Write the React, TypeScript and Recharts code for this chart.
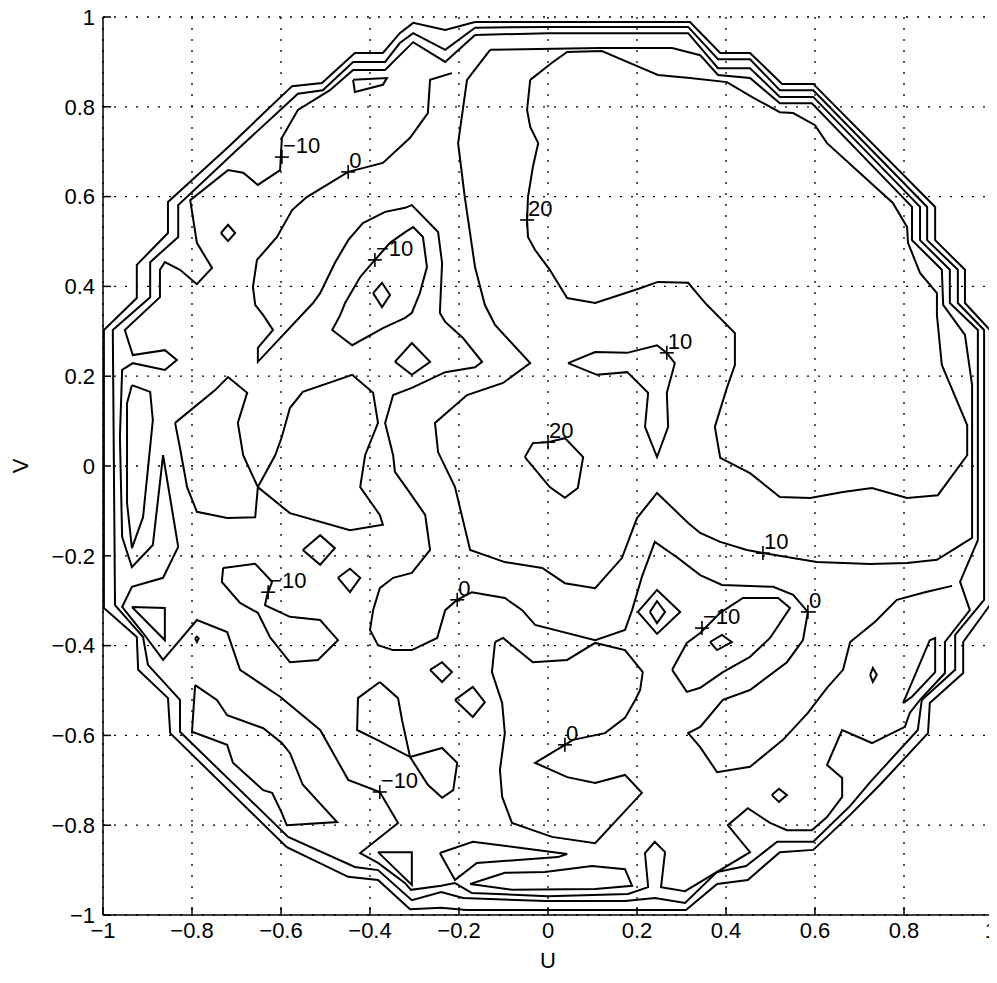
import React from 'react';
import { ScatterChart, Scatter, XAxis, YAxis, CartesianGrid } from 'recharts';

type Pt = [number, number];
const FONT = '"Liberation Sans", Arial, Helvetica, sans-serif';
const FS = 22;

const axisTicks = [-1, -0.8, -0.6, -0.4, -0.2, 0, 0.2, 0.4, 0.6, 0.8, 1];

// outer rings
const ring1: Pt[] = [[-0.164,0.989],[0.319,0.989],[0.387,0.920],[0.454,0.920],[0.526,0.851],[0.596,0.851],[0.870,0.577],[0.870,0.503],[0.937,0.437],[0.937,0.363],[0.993,0.303],[0.993,-0.310],[0.933,-0.392],[0.933,-0.461],[0.858,-0.528],[0.854,-0.595],[0.746,-0.710],[0.679,-0.777],[0.596,-0.855],[0.521,-0.860],[0.449,-0.922],[0.380,-0.931],[0.310,-0.989],[-0.184,-0.989],[-0.240,-0.984],[-0.310,-0.987],[-0.382,-0.922],[-0.449,-0.915],[-0.587,-0.849],[-0.849,-0.595],[-0.854,-0.517],[-0.921,-0.454],[-0.924,-0.381],[-0.998,-0.316],[-0.998,0.303],[-0.924,0.374],[-0.924,0.448],[-0.854,0.519],[-0.854,0.588],[-0.719,0.710],[-0.575,0.846],[-0.508,0.853],[-0.434,0.920],[-0.371,0.920],[-0.333,0.964],[-0.303,0.987],[-0.231,0.971],[-0.164,0.989]];

const ring2: Pt[] = [[-0.164,0.976],[0,0.978],[0.315,0.978],[0.382,0.906],[0.454,0.906],[0.521,0.837],[0.596,0.837],[0.852,0.577],[0.852,0.503],[0.921,0.437],[0.921,0.363],[0.980,0.303],[0.980,-0.298],[0.915,-0.376],[0.915,-0.454],[0.840,-0.521],[0.831,-0.588],[0.724,-0.704],[0.679,-0.757],[0.596,-0.837],[0.515,-0.837],[0.445,-0.891],[0.380,-0.904],[0.308,-0.973],[0.240,-0.962],[0.173,-0.969],[-0.004,-0.969],[-0.191,-0.962],[-0.240,-0.949],[-0.306,-0.967],[-0.382,-0.900],[-0.434,-0.893],[-0.584,-0.826],[-0.827,-0.592],[-0.827,-0.521],[-0.899,-0.443],[-0.910,-0.381],[-0.973,-0.310],[-0.978,0.303],[-0.894,0.376],[-0.894,0.454],[-0.831,0.510],[-0.831,0.581],[-0.701,0.702],[-0.562,0.829],[-0.506,0.837],[-0.438,0.900],[-0.366,0.900],[-0.333,0.942],[-0.303,0.964],[-0.231,0.927],[-0.164,0.976]];

const ring3: Pt[] = [[-0.164,0.960],[0,0.964],[0.315,0.964],[0.382,0.886],[0.454,0.886],[0.521,0.822],[0.596,0.822],[0.836,0.577],[0.836,0.503],[0.903,0.437],[0.903,0.363],[0.966,0.303],[0.966,-0.165],[0.926,-0.258],[0.948,-0.321],[0.892,-0.392],[0.892,-0.461],[0.836,-0.521],[0.813,-0.550],[0.802,-0.581],[0.728,-0.617],[0.661,-0.588],[0.627,-0.666],[0.661,-0.695],[0.661,-0.737],[0.627,-0.782],[0.593,-0.811],[0.537,-0.811],[0.499,-0.795],[0.449,-0.762],[0.404,-0.800],[0.454,-0.860],[0.308,-0.947],[0.254,-0.938],[0.263,-0.860],[0.240,-0.837],[0.218,-0.862],[0.225,-0.938],[0.180,-0.953],[0,-0.958],[-0.171,-0.951],[-0.209,-0.929],[-0.240,-0.935],[-0.308,-0.944],[-0.321,-0.929],[-0.382,-0.884],[-0.422,-0.862],[-0.337,-0.795],[-0.378,-0.726],[-0.449,-0.699],[-0.512,-0.588],[-0.602,-0.514],[-0.692,-0.454],[-0.721,-0.370],[-0.789,-0.343],[-0.865,-0.432],[-0.910,-0.372],[-0.957,-0.314],[-0.935,-0.269],[-0.865,-0.249],[-0.831,-0.180],[-0.865,0.024],[-0.888,-0.176],[-0.935,-0.225],[-0.957,-0.158],[-0.962,0.065],[-0.957,0.214],[-0.933,0.229],[-0.861,0.214],[-0.834,0.236],[-0.861,0.258],[-0.933,0.247],[-0.951,0.303],[-0.872,0.376],[-0.872,0.437],[-0.861,0.454],[-0.827,0.437],[-0.789,0.405],[-0.755,0.441],[-0.789,0.497],[-0.804,0.592],[-0.719,0.659],[-0.685,0.653],[-0.652,0.626],[-0.602,0.659],[-0.598,0.731],[-0.562,0.793],[-0.490,0.837],[-0.438,0.882],[-0.366,0.882],[-0.344,0.904],[-0.303,0.944],[-0.231,0.900],[-0.164,0.960]];

// 10 and 20 level regions
const level10Big: Pt[] = [[-0.130,0.927],[0.117,0.931],[0.279,0.931],[0.342,0.915],[0.382,0.871],[0.454,0.864],[0.521,0.808],[0.593,0.808],[0.818,0.577],[0.818,0.503],[0.885,0.437],[0.888,0.359],[0.937,0.292],[0.953,0.180],[0.953,-0.160],[0.874,-0.209],[0.807,-0.216],[0.724,-0.218],[0.604,-0.214],[0.483,-0.194],[0.447,-0.187],[0.387,-0.169],[0.342,-0.149],[0.315,-0.127],[0.245,-0.060],[0.200,-0.116],[0.166,-0.205],[0.106,-0.272],[0.038,-0.261],[-0.013,-0.227],[-0.097,-0.214],[-0.175,-0.187],[-0.209,-0.047],[-0.247,0.031],[-0.254,0.096],[-0.182,0.158],[-0.101,0.185],[-0.040,0.229],[-0.119,0.314],[-0.142,0.359],[-0.164,0.443],[-0.187,0.599],[-0.202,0.719],[-0.182,0.860],[-0.130,0.927]];

const level20Big: Pt[] = [[-0.040,0.860],[0.009,0.898],[0.043,0.922],[0.121,0.924],[0.211,0.886],[0.247,0.871],[0.319,0.864],[0.402,0.855],[0.458,0.822],[0.521,0.788],[0.551,0.786],[0.600,0.759],[0.627,0.719],[0.775,0.586],[0.807,0.532],[0.809,0.497],[0.836,0.430],[0.874,0.385],[0.874,0.336],[0.885,0.225],[0.942,0.091],[0.942,0.024],[0.876,-0.065],[0.807,-0.071],[0.728,-0.049],[0.663,-0.058],[0.589,-0.071],[0.521,-0.069],[0.454,-0.016],[0.387,0.018],[0.375,0.087],[0.402,0.174],[0.420,0.225],[0.420,0.296],[0.357,0.359],[0.342,0.376],[0.315,0.408],[0.247,0.410],[0.207,0.396],[0.106,0.363],[0.043,0.374],[0.004,0.437],[-0.029,0.481],[-0.045,0.510],[-0.047,0.548],[-0.045,0.599],[-0.034,0.666],[-0.022,0.719],[-0.040,0.755],[-0.047,0.793],[-0.040,0.860]];

const level20Small: Pt[] = [[-0.052,0.020],[-0.034,0.051],[0,0.053],[0.038,0.062],[0.079,0.020],[0.067,-0.049],[0.038,-0.071],[0.004,-0.047],[-0.052,0.020]];

const level10Spike: Pt[] = [[0.045,0.229],[0.106,0.254],[0.178,0.252],[0.245,0.269],[0.267,0.252],[0.285,0.229],[0.267,0.163],[0.270,0.087],[0.245,0.020],[0.218,0.087],[0.225,0.163],[0.178,0.209],[0.110,0.203],[0.045,0.229]];

// long zero contour (open)
const zeroLong: Pt[] = [[-0.216,0.875],[-0.265,0.860],[-0.270,0.786],[-0.310,0.731],[-0.371,0.675],[-0.449,0.655],[-0.542,0.599],[-0.575,0.570],[-0.609,0.510],[-0.654,0.459],[-0.663,0.399],[-0.658,0.359],[-0.640,0.336],[-0.618,0.303],[-0.652,0.263],[-0.652,0.232],[-0.528,0.363],[-0.512,0.385],[-0.479,0.452],[-0.449,0.503],[-0.416,0.541],[-0.366,0.566],[-0.321,0.575],[-0.306,0.581],[-0.247,0.521],[-0.238,0.452],[-0.243,0.341],[-0.231,0.321],[-0.191,0.285],[-0.148,0.232],[-0.164,0.220],[-0.231,0.209],[-0.306,0.174],[-0.348,0.158],[-0.366,0.096],[-0.348,0.024],[-0.344,-0.013],[-0.315,-0.053],[-0.276,-0.109],[-0.265,-0.187],[-0.306,-0.238],[-0.348,-0.249],[-0.378,-0.272],[-0.393,-0.321],[-0.400,-0.365],[-0.382,-0.399],[-0.348,-0.410],[-0.306,-0.410],[-0.249,-0.383],[-0.231,-0.321],[-0.204,-0.298],[-0.171,-0.281],[-0.097,-0.294],[-0.058,-0.321],[-0.029,-0.354],[0.106,-0.388],[0.173,-0.365],[0.189,-0.321],[0.211,-0.247],[0.240,-0.169],[0.292,-0.205],[0.342,-0.243],[0.391,-0.265],[0.506,-0.269],[0.551,-0.287],[0.584,-0.325],[0.573,-0.388],[0.537,-0.437],[0.454,-0.499],[0.393,-0.521],[0.342,-0.581],[0.315,-0.595],[0.342,-0.626],[0.380,-0.682],[0.454,-0.670],[0.528,-0.610],[0.584,-0.550],[0.627,-0.494],[0.663,-0.454],[0.679,-0.392],[0.735,-0.347],[0.784,-0.298],[0.847,-0.281],[0.908,-0.267]];

// upper-left region
const minus10Upper: Pt[] = [[-0.467,0.336],[-0.456,0.363],[-0.422,0.421],[-0.389,0.459],[-0.355,0.497],[-0.321,0.521],[-0.303,0.532],[-0.281,0.510],[-0.272,0.443],[-0.288,0.385],[-0.306,0.341],[-0.321,0.330],[-0.371,0.307],[-0.440,0.269],[-0.485,0.303],[-0.467,0.336]];
const diamondA: Pt[] = [[-0.393,0.385],[-0.373,0.408],[-0.355,0.381],[-0.373,0.354],[-0.393,0.385]];
const diamondB: Pt[] = [[-0.344,0.232],[-0.306,0.274],[-0.265,0.232],[-0.306,0.203],[-0.344,0.232]];
const diamondC: Pt[] = [[-0.735,0.519],[-0.719,0.537],[-0.703,0.519],[-0.719,0.501],[-0.735,0.519]];
const sliver: Pt[] = [[-0.438,0.860],[-0.362,0.864],[-0.371,0.849],[-0.434,0.833],[-0.438,0.860]];

// left-centre region
const leftLoop: Pt[] = [[-0.935,0.180],[-0.894,0.165],[-0.888,0.102],[-0.910,-0.114],[-0.935,-0.183],[-0.946,-0.082],[-0.946,0.140],[-0.935,0.180]];
const shapeA: Pt[] = [[-0.838,0.096],[-0.748,0.169],[-0.719,0.198],[-0.676,0.163],[-0.697,0.096],[-0.685,0.024],[-0.652,-0.047],[-0.658,-0.114],[-0.721,-0.116],[-0.789,-0.102],[-0.811,-0.047],[-0.827,0.040],[-0.838,0.096]];
const shapeB: Pt[] = [[-0.652,-0.047],[-0.580,-0.105],[-0.445,-0.143],[-0.371,-0.131],[-0.378,-0.109],[-0.422,-0.047],[-0.411,0.024],[-0.382,0.096],[-0.393,0.163],[-0.440,0.203],[-0.551,0.165],[-0.580,0.129],[-0.598,0.065],[-0.613,0.024],[-0.652,-0.047]];

// lower-left region
const minus10LowerLeft: Pt[] = [[-0.730,-0.227],[-0.658,-0.218],[-0.620,-0.258],[-0.631,-0.287],[-0.636,-0.310],[-0.580,-0.336],[-0.512,-0.343],[-0.472,-0.388],[-0.517,-0.432],[-0.580,-0.437],[-0.625,-0.381],[-0.652,-0.327],[-0.692,-0.305],[-0.733,-0.258],[-0.730,-0.227]];
const diamondD: Pt[] = [[-0.551,-0.187],[-0.512,-0.154],[-0.479,-0.183],[-0.512,-0.220],[-0.551,-0.187]];
const diamondE: Pt[] = [[-0.472,-0.249],[-0.445,-0.229],[-0.422,-0.249],[-0.445,-0.281],[-0.472,-0.249]];
const triangleLeft: Pt[] = [[-0.935,-0.314],[-0.861,-0.316],[-0.861,-0.388],[-0.935,-0.314]];
const dotLeft: Pt[] = [[-0.793,-0.384],[-0.789,-0.380],[-0.785,-0.384],[-0.789,-0.392],[-0.793,-0.384]];
const lowerLeftLoop: Pt[] = [[-0.793,-0.488],[-0.744,-0.521],[-0.721,-0.555],[-0.640,-0.584],[-0.598,-0.617],[-0.580,-0.639],[-0.551,-0.710],[-0.474,-0.793],[-0.587,-0.800],[-0.598,-0.773],[-0.620,-0.728],[-0.640,-0.722],[-0.708,-0.661],[-0.721,-0.621],[-0.800,-0.592],[-0.793,-0.488]];

// lower-centre region
const figureEight: Pt[] = [[-0.378,-0.481],[-0.337,-0.517],[-0.328,-0.566],[-0.310,-0.648],[-0.238,-0.628],[-0.204,-0.661],[-0.213,-0.722],[-0.238,-0.739],[-0.270,-0.710],[-0.310,-0.648],[-0.384,-0.610],[-0.429,-0.588],[-0.427,-0.517],[-0.378,-0.481]];
const zeroBottom: Pt[] = [[-0.119,-0.392],[-0.101,-0.383],[-0.034,-0.437],[0.043,-0.432],[0.106,-0.394],[0.173,-0.410],[0.213,-0.459],[0.207,-0.499],[0.196,-0.521],[0.173,-0.561],[0.128,-0.595],[0.056,-0.610],[0.038,-0.621],[-0.029,-0.661],[0.043,-0.693],[0.106,-0.706],[0.173,-0.688],[0.211,-0.728],[0.106,-0.840],[0.009,-0.826],[-0.081,-0.795],[-0.103,-0.737],[-0.108,-0.677],[-0.097,-0.595],[-0.103,-0.528],[-0.126,-0.459],[-0.119,-0.392]];
const diamondF: Pt[] = [[-0.265,-0.454],[-0.238,-0.437],[-0.216,-0.459],[-0.238,-0.481],[-0.265,-0.454]];
const diamondG: Pt[] = [[-0.209,-0.521],[-0.169,-0.492],[-0.142,-0.526],[-0.169,-0.559],[-0.209,-0.521]];
const bottomLoopA: Pt[] = [[-0.175,-0.931],[-0.097,-0.906],[-0.007,-0.904],[0.099,-0.891],[0.173,-0.898],[0.189,-0.935],[0.106,-0.942],[-0.081,-0.944],[-0.175,-0.931]];
const bottomLoopB: Pt[] = [[-0.243,-0.862],[-0.169,-0.837],[0.043,-0.864],[0.022,-0.871],[-0.160,-0.884],[-0.209,-0.922],[-0.243,-0.862]];
const triangleBottom: Pt[] = [[-0.382,-0.860],[-0.306,-0.860],[-0.306,-0.933],[-0.382,-0.860]];

// lower-right region
const nestedOuter: Pt[] = [[0.202,-0.325],[0.245,-0.276],[0.297,-0.325],[0.245,-0.374],[0.202,-0.325]];
const nestedInner: Pt[] = [[0.229,-0.325],[0.245,-0.301],[0.263,-0.325],[0.245,-0.350],[0.229,-0.325]];
const minus10LowerRight: Pt[] = [[0.279,-0.454],[0.312,-0.394],[0.342,-0.372],[0.387,-0.327],[0.438,-0.294],[0.517,-0.294],[0.544,-0.316],[0.499,-0.383],[0.454,-0.425],[0.393,-0.459],[0.342,-0.494],[0.312,-0.503],[0.279,-0.454]];
const diamondH: Pt[] = [[0.364,-0.392],[0.391,-0.376],[0.413,-0.392],[0.380,-0.410],[0.364,-0.392]];
const smallEllipse: Pt[] = [[0.724,-0.465],[0.730,-0.450],[0.739,-0.465],[0.730,-0.481],[0.724,-0.465]];
const diamondI: Pt[] = [[0.503,-0.733],[0.519,-0.719],[0.537,-0.733],[0.519,-0.748],[0.503,-0.733]];
const spikeRight: Pt[] = [[0.798,-0.528],[0.858,-0.388],[0.870,-0.383],[0.870,-0.459],[0.818,-0.514],[0.798,-0.528]];

const contourLines: Pt[][] = [
  ring1, ring2, ring3, level10Big, level20Big, level20Small, level10Spike, zeroLong,
  minus10Upper, diamondA, diamondB, diamondC, sliver, leftLoop, shapeA, shapeB,
  minus10LowerLeft, diamondD, diamondE, triangleLeft, dotLeft, lowerLeftLoop,
  figureEight, zeroBottom, diamondF, diamondG, bottomLoopA, bottomLoopB, triangleBottom,
  nestedOuter, nestedInner, minus10LowerRight, diamondH, smallEllipse, diamondI, spikeRight,
];

// contour labels: position of the "+" mark and the text
const labelU = [-0.598, -0.449, -0.047, -0.389, 0.267, 0, 0.483, -0.629, -0.204, 0.346, 0.584, 0.038, -0.378];
const labelV = [0.688, 0.655, 0.548, 0.459, 0.252, 0.053, -0.194, -0.281, -0.298, -0.361, -0.325, -0.621, -0.726];
const labelText = ['\u221210', '0', '20', '\u221210', '10', '20', '10', '\u221210', '0', '\u221210', '0', '0', '\u221210'];

const labelData = labelU.map((u, i) => ({ u, v: labelV[i], text: labelText[i] }));

const fmt = (t: number) => (t < 0 ? '\u2212' + String(-t) : String(t));

const NoShape = () => <g />;

const LabelMark = (props: any) => {
  const { cx, cy, payload } = props;
  return (
    <g>
      <line x1={cx - 7} y1={cy} x2={cx + 7} y2={cy} stroke="#000" strokeWidth={1.6} />
      <line x1={cx} y1={cy - 7} x2={cx} y2={cy + 7} stroke="#000" strokeWidth={1.6} />
      <text x={cx + 1} y={cy - 4} fontSize={FS} fontFamily={FONT} fill="#000">
        {payload.text}
      </text>
    </g>
  );
};

// bottom tick labels; the last one is right-aligned so it stays inside the page
const XTick = (props: any) => {
  const { x, y, payload, index, visibleTicksCount } = props;
  const last = payload.value === 1 || index === (visibleTicksCount || 0) - 1;
  return (
    <text
      x={last ? x + 4 : x}
      y={y}
      dy="0.71em"
      textAnchor={last ? 'end' : 'middle'}
      fontSize={FS}
      fontFamily={FONT}
      fill="#000"
    >
      {fmt(payload.value)}
    </text>
  );
};

const VLabel = (props: any) => {
  const vb = props.viewBox || { x: 0, y: 0, width: 0, height: 0 };
  const x = vb.x + 12;
  const y = vb.y + vb.height / 2;
  return (
    <text x={x} y={y} transform={`rotate(-90 ${x} ${y})`} textAnchor="middle" dominantBaseline="central" fontSize={FS} fontFamily={FONT} fill="#000">
      V
    </text>
  );
};

export default function App() {
  const tickStyle = { fill: '#000', fontSize: FS, fontFamily: FONT };
  return (
    <div style={{ background: '#fff', width: 989, height: 975 }}>
      <style>{'.recharts-surface { overflow: visible; }'}</style>
      <ScatterChart width={989} height={975} margin={{ top: 9, right: 4, bottom: 15, left: 0 }}>
        <CartesianGrid stroke="#000" strokeWidth={1.3} strokeDasharray="2 9" />
        <XAxis
          type="number"
          dataKey="u"
          domain={[-1, 1]}
          ticks={axisTicks}
          interval={0}
          allowDataOverflow
          tick={<XTick />}
          tickSize={-8}
          tickMargin={15}
          height={53}
          stroke="#000"
          strokeWidth={1.5}
          label={{ value: 'U', position: 'insideBottom', offset: 0, fill: '#000', fontSize: FS, fontFamily: FONT }}
        />
        <YAxis
          type="number"
          dataKey="v"
          domain={[-1, 1]}
          ticks={axisTicks}
          interval={0}
          allowDataOverflow
          tickFormatter={fmt}
          tick={tickStyle}
          tickSize={-8}
          tickMargin={16}
          width={95}
          stroke="#000"
          strokeWidth={1.5}
          label={{ content: VLabel }}
        />
        <XAxis xAxisId="top" orientation="top" type="number" domain={[-1, 1]} ticks={axisTicks} interval={0} allowDataOverflow tick={false} tickSize={-8} height={0} stroke="#000" strokeWidth={1.5} />
        <YAxis yAxisId="right" orientation="right" type="number" domain={[-1, 1]} ticks={axisTicks} interval={0} allowDataOverflow tick={false} tickSize={-8} width={0} stroke="#000" strokeWidth={1.5} />
        {contourLines.map((pts, i) => (
          <Scatter
            key={i}
            data={pts.map(([u, v]) => ({ u, v }))}
            fill="#000"
            line={{ stroke: '#000', strokeWidth: 2 }}
            lineType="joint"
            shape={NoShape}
            isAnimationActive={false}
          />
        ))}
        <Scatter data={labelData} fill="#000" shape={LabelMark} isAnimationActive={false} />
      </ScatterChart>
    </div>
  );
}
